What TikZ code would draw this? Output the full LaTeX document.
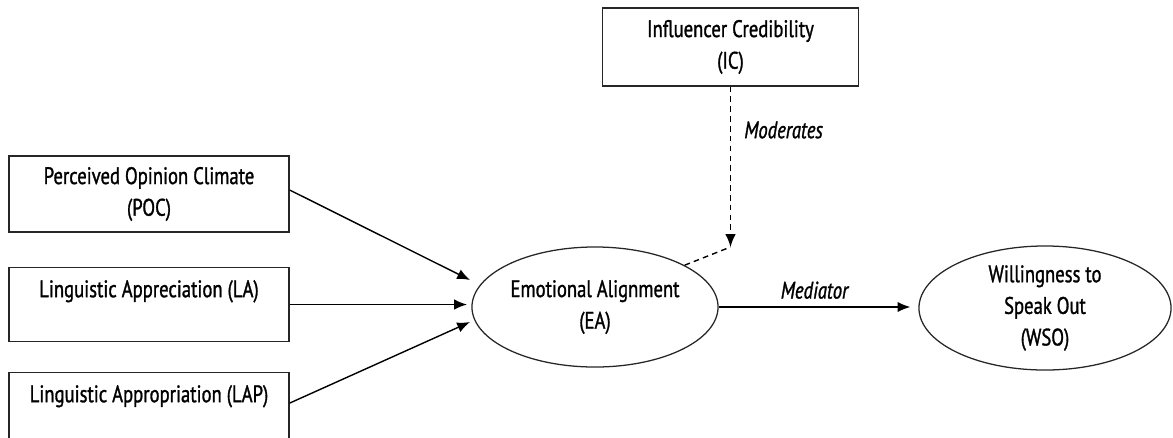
\documentclass[tikz,border=0pt]{standalone}
\usepackage{fontspec}
\setmainfont{PT Sans}[FakeStretch=0.78, FakeBold=1.2]
\usetikzlibrary{shapes.geometric, positioning, arrows.meta}

\begin{document}
\begin{tikzpicture}[x=0.025cm, y=-0.025cm,
    every node/.style={font=\fontsize{17}{22.5}\selectfont, align=center},
    factor/.style={draw=black!85, line width=0.9pt, rectangle, inner sep=0pt,
        minimum width=7cm, minimum height=1.85cm},
    latent/.style={draw=black!85, line width=0.9pt, ellipse, inner sep=0pt},
    path/.style={line width=1pt, -{Latex[length=3.2mm, width=2.6mm]}},
    modpath/.style={line width=1pt, dash pattern=on 4pt off 3pt},
    tag/.style={font=\fontsize{17}{17}\selectfont\itshape}]
    \useasboundingbox (0,0) rectangle (1173,437);
    % predictors
    \node[factor, minimum height=1.9cm] (poc) at (149,194) {Perceived Opinion Climate\\(POC)};
    \node[factor] (la) at (149,304.5) {Linguistic Appreciation (LA)\\\mbox{}};
    \node[factor] (lap) at (149,409.5) {Linguistic Appropriation (LAP)\\\mbox{}};
    % moderator
    \node[factor, minimum width=6.4cm, minimum height=1.95cm] (ic) at (730.5,47) {Influencer Credibility\\(IC)};
    % mediator and outcome
    \node[latent, minimum width=6.15cm, minimum height=3cm] (ea) at (595,307) {Emotional Alignment\\(EA)};
    \node[latent, minimum width=6.3cm, minimum height=3.1cm] (wso) at (1045,308) {Willingness to\\Speak Out\\(WSO)};
    \coordinate (poc-in) at (470,280);
    \coordinate (la-in) at (467,304.5);
    \coordinate (lap-in) at (470,322);
    \coordinate (mod) at (730.5,247);
    \draw[path] ([yshift=1mm]poc.east) -- (poc-in);
    \draw[path] (la.east) -- (la-in);
    \draw[path] ([yshift=1.6mm]lap.east) -- (lap-in);
    \draw[path, modpath] (ic.south) -- node[tag, right=6pt, pos=0.27] {Moderates} (mod);
    \draw[modpath] (ea.25) -- (mod);
    \draw[path] (ea.east) -- node[tag, above=2pt] {Mediator} ([xshift=-2mm]ea.east -| wso.west);
\end{tikzpicture}
\end{document}
